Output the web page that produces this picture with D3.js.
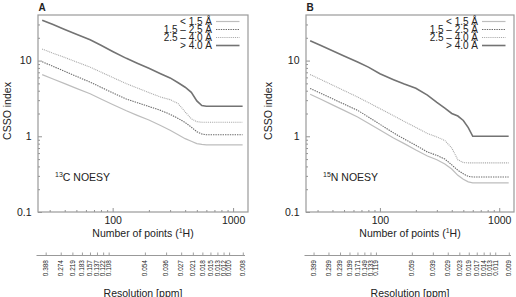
<!DOCTYPE html>
<html><head><meta charset="utf-8">
<script src="https://cdn.jsdelivr.net/npm/d3@7"></script>
<style>
body{margin:0;background:#fff}
svg{display:block}
text{font-family:"Liberation Sans",Arial,Helvetica,sans-serif;fill:#222}
</style>
</head><body>
<svg id="c" width="516" height="297"></svg>
<script>
// ---------- data ----------
const nPoints = [26, 32, 40, 50, 65, 80, 100, 130, 160, 200, 250, 300, 350, 400, 450, 500, 550, 600, 700, 800, 1000, 1200];
const seriesLabels = ["< 1.5 Å", "1.5 – 2.5 Å", "2.5 – 4.0 Å", "> 4.0 Å"];

// Panel A: 13C NOESY
const cLt15   = [6.52, 5.72, 4.96, 4.30, 3.65, 3.11, 2.63, 2.17, 1.89, 1.64, 1.39, 1.20, 1.05, 0.93, 0.86, 0.80, 0.78, 0.77, 0.77, 0.77, 0.77, 0.77];
const c15to25 = [9.65, 8.39, 7.21, 6.19, 5.19, 4.44, 3.75, 3.10, 2.78, 2.47, 2.20, 1.95, 1.72, 1.52, 1.32, 1.15, 1.07, 1.05, 1.05, 1.05, 1.05, 1.05];
const c25to40 = [14.2, 12.5, 11.0, 9.6, 8.2, 7.04, 5.99, 4.95, 4.35, 3.78, 3.30, 3.05, 2.70, 2.10, 1.70, 1.56, 1.53, 1.53, 1.53, 1.53, 1.53, 1.53];
const cGt40   = [34.2, 29.9, 25.8, 22.3, 18.8, 15.9, 13.2, 10.7, 9.25, 7.9, 6.7, 5.9, 5.1, 4.45, 3.8, 2.93, 2.55, 2.49, 2.49, 2.49, 2.49, 2.49];

// Panel B: 15N NOESY
const nLt15   = [3.60, 3.08, 2.60, 2.20, 1.80, 1.49, 1.21, 0.95, 0.80, 0.66, 0.55, 0.49, 0.43, 0.37, 0.305, 0.27, 0.25, 0.243, 0.243, 0.243, 0.243, 0.243];
const n15to25 = [4.28, 3.68, 3.13, 2.66, 2.20, 1.80, 1.44, 1.11, 0.92, 0.76, 0.62, 0.56, 0.50, 0.42, 0.355, 0.32, 0.295, 0.29, 0.29, 0.29, 0.29, 0.29];
const n25to40 = [6.55, 5.61, 4.75, 4.02, 3.30, 2.79, 2.32, 1.87, 1.57, 1.31, 1.09, 0.98, 0.88, 0.70, 0.49, 0.45, 0.445, 0.445, 0.445, 0.445, 0.445, 0.445];
const nGt40   = [18.3, 15.8, 13.5, 11.5, 9.6, 8.2, 6.7, 5.6, 4.9, 4.3, 3.5, 2.8, 2.35, 2.0, 1.85, 1.62, 1.3, 1.0, 1.0, 1.0, 1.0, 1.0];

// axes
const xMajorTicks = [100, 1000];
const xMinorTicks = [30, 40, 50, 60, 70, 80, 90, 200, 300, 400, 500, 600, 700, 800, 900];
const yMajorTicks = [0.1, 1, 10];
const yMinorTicks = [0.2, 0.3, 0.4, 0.5, 0.6, 0.7, 0.8, 0.9, 2, 3, 4, 5, 6, 7, 8, 9, 20, 30];
const resTickPoints = [30, 40, 50, 60, 70, 80, 90, 100, 200, 300, 400, 500, 600, 700, 800, 900, 1000, 1300];
const resLabelsC = ["0.388","0.274","0.219","0.183","0.157","0.137","0.122","0.108","0.054","0.036","0.027","0.021","0.018","0.015","0.013","0.012","0.010","0.008"];
const resLabelsN = ["0.399","0.299","0.239","0.199","0.171","0.149","0.133","0.119","0.059","0.039","0.029","0.023","0.019","0.017","0.014","0.013","0.011","0.009"];

// ---------- drawing ----------
const svg = d3.select("#c");
const plotTop = 15, plotBottom = 212;
const styles = [
  {color:"#bdbdbd", width:1.2, dash:null},
  {color:"#6a6a6a", width:1.1, dash:"1.4,1"},
  {color:"#a8a8a8", width:1.1, dash:"1,0.9"},
  {color:"#737373", width:1.6, dash:null}
];
const panels = [
  {id:"A", left:38, right:248, series:[cLt15, c15to25, c25to40, cGt40], res:resLabelsC, sup:"13", name:"C NOESY", ylabX:7.5},
  {id:"B", left:306, right:514, series:[nLt15, n15to25, n25to40, nGt40], res:resLabelsN, sup:"15", name:"N NOESY", ylabX:268}
];

panels.forEach(p => {
  const x = d3.scaleLog().domain([24, 1330]).range([p.left, p.right]);
  const y = d3.scaleLog().domain([0.1, 40]).range([plotBottom, plotTop]);
  const g = svg.append("g");

  const xa = g.append("g").attr("transform", `translate(0,${plotBottom})`)
    .call(d3.axisBottom(x).tickValues(xMajorTicks).tickSize(-4).tickPadding(4.5).tickFormat(d3.format("d")));
  const xm = g.append("g").attr("transform", `translate(0,${plotBottom})`)
    .call(d3.axisBottom(x).tickValues(xMinorTicks).tickSize(-2).tickFormat(""));
  const ya = g.append("g").attr("transform", `translate(${p.left},0)`)
    .call(d3.axisLeft(y).tickValues(yMajorTicks).tickSize(-4).tickPadding(6.5).tickFormat(d => d < 1 ? "0.1" : d3.format("d")(d)));
  const ym = g.append("g").attr("transform", `translate(${p.left},0)`)
    .call(d3.axisLeft(y).tickValues(yMinorTicks).tickSize(-2).tickFormat(""));
  [xa, xm, ya, ym].forEach(a => {
    a.select(".domain").remove();
    a.selectAll("line").attr("stroke", "#777").attr("stroke-width", 0.8);
    a.selectAll("text").attr("font-size", "10.5px").attr("fill", "#222")
      .attr("font-family", '"Liberation Sans",Arial,sans-serif');
  });

  const line = d3.line().x(d => x(d[0])).y(d => y(d[1]));
  p.series.forEach((vals, i) => {
    const st = styles[i];
    g.append("path").datum(d3.zip(nPoints, vals))
      .attr("d", line).attr("fill", "none")
      .attr("stroke", st.color).attr("stroke-width", st.width)
      .attr("stroke-dasharray", st.dash);
  });

  g.append("rect").attr("x", p.left).attr("y", plotTop)
    .attr("width", p.right - p.left).attr("height", plotBottom - plotTop)
    .attr("fill", "none").attr("stroke", "#9a9a9a").attr("stroke-width", 1.2);

  const rowY = [21.5, 29.5, 37.5, 45.5];
  seriesLabels.forEach((lab, i) => {
    const st = styles[i];
    g.append("text").attr("x", p.right - 36).attr("y", rowY[i]).attr("dy", "0.35em")
      .attr("text-anchor", "end").attr("font-size", "10px").text(lab);
    g.append("line").attr("x1", p.right - 32).attr("x2", p.right - 8.5)
      .attr("y1", rowY[i]).attr("y2", rowY[i])
      .attr("stroke", st.color).attr("stroke-width", st.width).attr("stroke-dasharray", st.dash);
  });

  g.append("text").attr("x", p.left + 0.5).attr("y", 11).attr("font-size", "10px")
    .attr("font-weight", "bold").attr("fill", "#333").text(p.id);

  const t = g.append("text").attr("x", p.left + 17).attr("y", 181).attr("font-size", "10.5px");
  t.append("tspan").attr("font-size", "7px").attr("dy", "-4").text(p.sup);
  t.append("tspan").attr("dy", "4").text(p.name);

  g.append("text").attr("transform", `translate(${p.ylabX},111) rotate(-90)`)
    .attr("text-anchor", "middle").attr("dy", "0.35em").attr("font-size", "10.5px").text("CSSO index");

  const xl = g.append("text").attr("x", (p.left + p.right) / 2).attr("y", 237)
    .attr("text-anchor", "middle").attr("font-size", "10.5px");
  xl.append("tspan").text("Number of points (");
  xl.append("tspan").attr("font-size", "7px").attr("dy", "-4").text("1");
  xl.append("tspan").attr("dy", "4").text("H)");

  const rx = d3.scaleLog().domain([24, 1330]).range([p.left - 4, p.right - 4]);
  const ra = g.append("g").attr("transform", "translate(0,255.5)")
    .call(d3.axisTop(rx).tickValues(resTickPoints).tickSize(3).tickFormat(""));
  ra.select(".domain").remove();
  ra.selectAll("line").attr("stroke", "#888").attr("stroke-width", 0.8);
  g.append("line").attr("x1", p.left - 1.5).attr("x2", p.right - 3)
    .attr("y1", 255.5).attr("y2", 255.5).attr("stroke", "#999").attr("stroke-width", 1);
  g.selectAll(".reslab").data(resTickPoints).enter().append("text")
    .attr("transform", d => `translate(${rx(d)},260) rotate(-90)`)
    .attr("text-anchor", "end").attr("dy", "0.35em").attr("font-size", "6.5px")
    .attr("fill", "#666").text((d, i) => p.res[i]);

  g.append("text").attr("x", (p.left + p.right) / 2).attr("y", 296.5)
    .attr("text-anchor", "middle").attr("font-size", "10.5px").text("Resolution [ppm]");
});
</script>
</body></html>
